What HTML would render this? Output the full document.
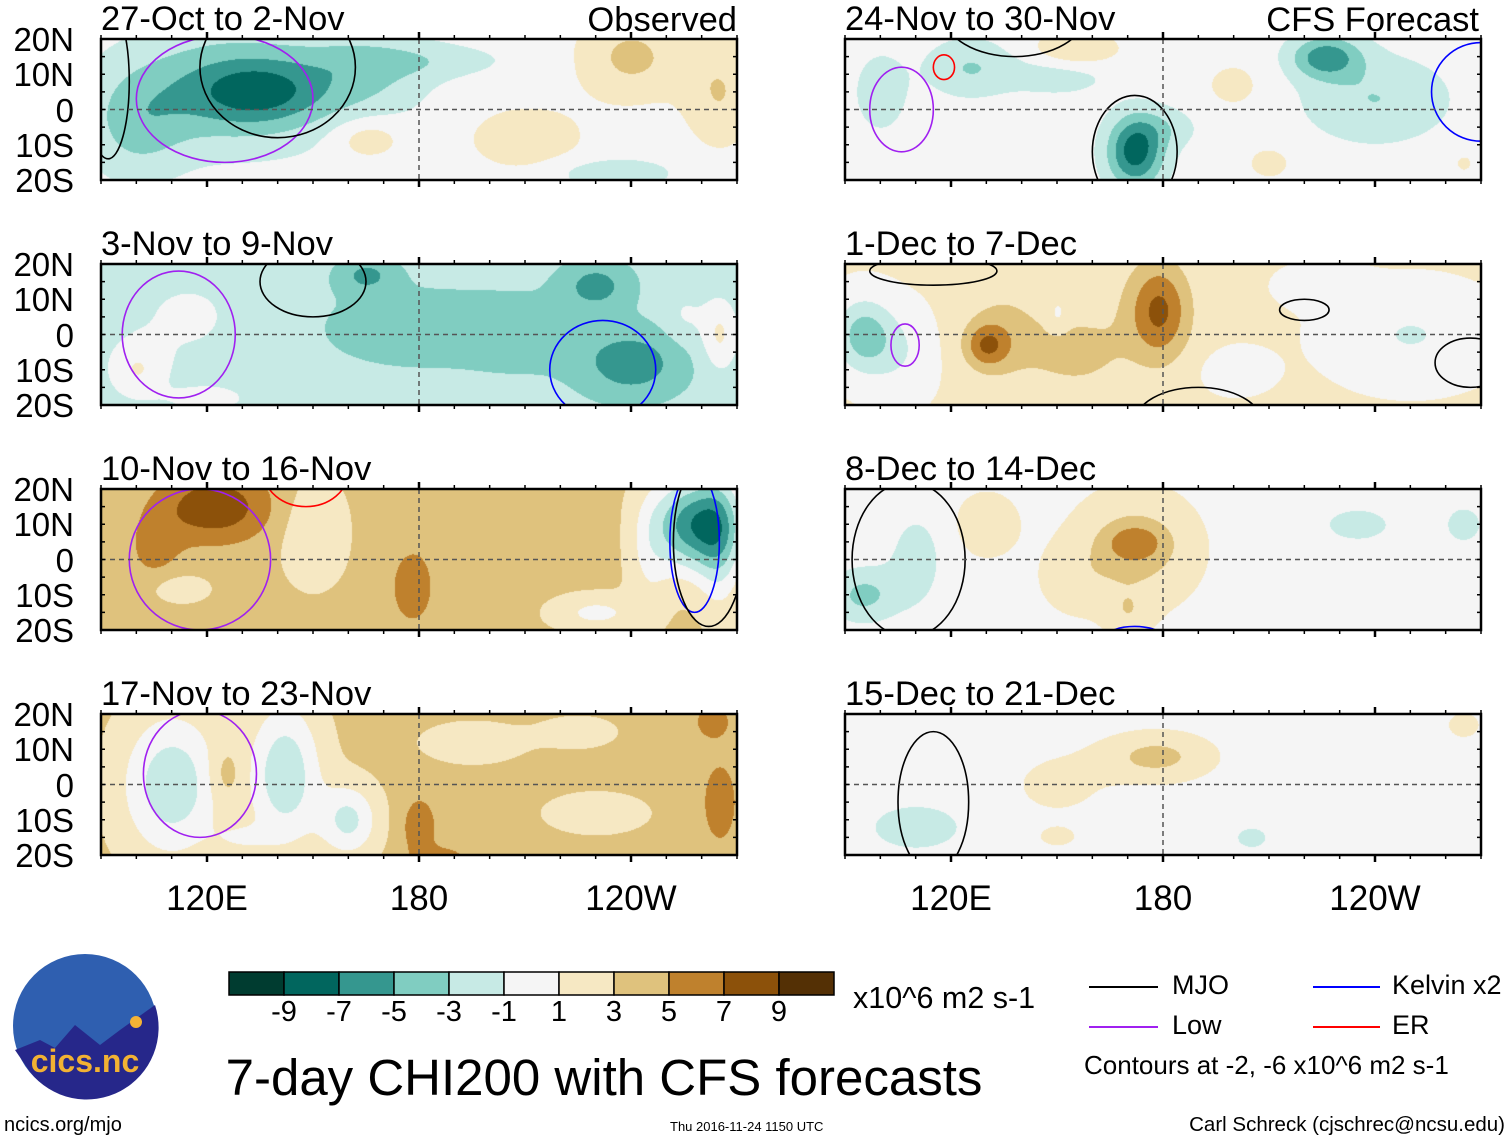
<!DOCTYPE html>
<html><head><meta charset="utf-8"><style>
body{margin:0;background:#fff;width:1510px;height:1142px;overflow:hidden;position:relative;font-family:"Liberation Sans",sans-serif}
.t{position:absolute;white-space:nowrap;color:#000;line-height:1}
canvas,svg{position:absolute;left:0;top:0}
</style></head><body>
<canvas id="cv" width="1510" height="1142"></canvas>
<svg id="sv" width="1510" height="1142"></svg>
<div id="txt"></div>
<script>
// ---- data ----
const panelTitles = ["27-Oct to 2-Nov","3-Nov to 9-Nov","10-Nov to 16-Nov","17-Nov to 23-Nov","24-Nov to 30-Nov","1-Dec to 7-Dec","8-Dec to 14-Dec","15-Dec to 21-Dec"];
const panelBase = [0,-2.2,3.5,3.5,0,1.2,0.5,0];
// blobs: [lon, lat, amplitude, lonWidth, latWidth]
const blobsP0 = [[128,6,-5.5,30,16],[135,5,-3.5,16,8],[100,-5,-3,14,15],[165,10,-2.5,18,12],[180,14,-2,25,5],[240,15,3.5,15,12],[265,5,3,10,15],[165,-8,2.5,10,6],[210,-8,2,18,10],[235,-18,-3,15,4]];
const blobsP1 = [[165,17,-3,8,5],[180,2,-1.5,35,14],[240,-8,-4,15,10],[230,14,-3.5,10,7],[210,0,-1.5,15,10],[115,5,1.5,20,15],[100,-10,3,8,8],[265,0,3.5,5,10],[120,-18,2,12,4],[255,5,1.5,6,8]];
const blobsP2 = [[122,15,5,16,10],[105,3,2,8,10],[112,-8,-2,8,4],[150,8,-2.5,9,14],[178,-8,2.5,7,12],[258,10,-10,12,13],[265,5,-4,6,20],[230,-15,-3,12,5],[245,0,-2,6,18],[205,8,0.6,30,10]];
const blobsP3 = [[110,0,-6,14,20],[142,3,-6,10,20],[160,-10,-5,8,10],[130,-15,-2,8,4],[180,-12,3,5,9],[265,-5,3,5,12],[263,18,3,5,5],[230,-8,-1.5,15,6],[195,12,-1.5,15,6],[225,15,-1.2,12,5],[187,-20,2,8,3],[125,3,2,5,8]];
const blobsP4 = [[172,-12,-8,8,10],[180,-5,-2,10,6],[226,15,-6,10,6],[240,3,-3,20,12],[125,12,-3,12,8],[100,5,-2,8,12],[150,10,-2,15,6],[155,17,3.2,12,5],[200,7,1.5,10,8],[210,-15,1.5,8,6],[265,-15,1.2,5,5]];
const blobsP5 = [[179,7,5,8,13],[175,5,1.5,14,18],[130,-3,4.5,6,6],[135,0,2.5,12,14],[155,-5,2.5,12,10],[95,0,-5,8,10],[105,-5,-2,10,12],[150,5,-1.5,3,5],[250,0,-2.3,20,12],[225,14,-2,10,5],[200,-10,-1.2,10,6]];
const blobsP6 = [[172,5,3,8,5],[172,3,3.5,15,14],[170,-15,1.8,6,6],[95,-10,-4,10,8],[110,0,-2.5,8,14],[130,10,2,8,8],[235,10,-2.3,12,6],[265,10,-2,8,8],[155,-5,1.2,10,10]];
const blobsP7 = [[178,8,3.6,16,7],[150,0,1.5,15,10],[110,-12,-2.5,12,6],[205,-15,-1.5,6,4],[265,17,2,5,4],[150,-15,1.2,8,4]];
const allBlobs = [blobsP0,blobsP1,blobsP2,blobsP3,blobsP4,blobsP5,blobsP6,blobsP7];
// contours: [panel, lon, lat, lonRadius, latRadius, color]
const contourPanels = [0,0,0,1,1,1,2,2,2,2,3,4,4,4,4,4,5,5,5,5,5,6,6,6,7];
const contourLon = [125,92,140,112,150,232,118,148,258,262,118,106,138,118,172,270,107,220,115,190,267,108,208,172,115];
const contourLat = [3,8,12,0,15,-10,0,25,5,5,3,0,27,12,-12,5,-3,7,18,-25,-8,0,25,-22,-5];
const contourRx = [25,6,22,16,15,15,20,12,7,10,16,9,20,3,12,14,4,7,18,18,10,16,8,8,10];
const contourRy = [18,22,20,18,10,14,20,10,20,24,18,12,12,3.5,16,14,6,3,4,10,7,22,5,3,20];
const contourColors = ["#a020f0","#000","#000","#a020f0","#000","#0000ff","#a020f0","#ff0000","#0000ff","#000","#a020f0","#a020f0","#000","#ff0000","#000","#0000ff","#a020f0","#000","#000","#000","#000","#000","#0000ff","#0000ff","#000"];
const levels = [-9,-7,-5,-3,-1,1,3,5,7,9];
const palette = ["#003c30","#01665e","#35978f","#80cdc1","#c7eae5","#f5f5f5","#f6e8c3","#dfc27d","#bf812d","#8c510a","#543005"];
const latTicks = ["20N","10N","0","10S","20S"];
const lonTicks = ["120E","180","120W"];

// ---- geometry ----
const colX=[101,845], rowY=[39,264,489,714], PW=636, PH=141;
const sx = PW/180, sy = PH/40;
function px(p,lon){return colX[p<4?0:1]+(lon-90)*sx;}
function py(p,lat){return rowY[p%4]+(20-lat)*sy;}
function field(p,lon,lat){let v=panelBase[p];for(const b of allBlobs[p]){const dx=(lon-b[0])/b[3],dy=(lat-b[1])/b[4];v+=b[2]*Math.exp(-(dx*dx+dy*dy));}return v;}
function cls(v){let i=0;while(i<levels.length&&v>=levels[i])i++;return i;}
const rgb=palette.map(h=>[parseInt(h.substr(1,2),16),parseInt(h.substr(3,2),16),parseInt(h.substr(5,2),16)]);
const ctx=document.getElementById('cv').getContext('2d');
for(let p=0;p<8;p++){
  const x0=colX[p<4?0:1],y0=rowY[p%4];
  const img=ctx.createImageData(PW,PH);
  for(let j=0;j<PH;j++)for(let i=0;i<PW;i++){
    const c=rgb[cls(field(p,90+i/sx,20-j/sy))];const k=(j*PW+i)*4;
    img.data[k]=c[0];img.data[k+1]=c[1];img.data[k+2]=c[2];img.data[k+3]=255;}
  ctx.putImageData(img,x0,y0);
}
// ---- overlay ----
const NS="http://www.w3.org/2000/svg",sv=document.getElementById('sv');
function mk(tag,at,name){const e=document.createElementNS(NS,tag);for(const k in at)e.setAttribute(k,at[k]);


sv.appendChild(e);return e;}
for(let p=0;p<8;p++){
  const cp=mk('clipPath',{id:'c'+p},'clip');
  const r=document.createElementNS(NS,'rect');r.setAttribute('x',colX[p<4?0:1]);r.setAttribute('y',rowY[p%4]);r.setAttribute('width',PW);r.setAttribute('height',PH);cp.appendChild(r);
}
for(let k=0;k<contourPanels.length;k++){
  const p=contourPanels[k];
  mk('ellipse',{cx:px(p,contourLon[k]),cy:py(p,contourLat[k]),rx:contourRx[k]*sx,ry:contourRy[k]*sy,fill:'none',stroke:contourColors[k],'stroke-width':1.6,'clip-path':'url(#c'+p+')'},'contour-line');
}
for(let p=0;p<8;p++){
  const x0=colX[p<4?0:1],y0=rowY[p%4];
  mk('line',{x1:x0,y1:py(p,0),x2:x0+PW,y2:py(p,0),stroke:'#555','stroke-width':1.5,'stroke-dasharray':'5,4'},'equator-line');
  mk('line',{x1:px(p,180),y1:y0,x2:px(p,180),y2:y0+PH,stroke:'#555','stroke-width':1.5,'stroke-dasharray':'5,4'},'dateline');
  mk('rect',{x:x0,y:y0,width:PW,height:PH,fill:'none',stroke:'#000','stroke-width':2.5},'panel-frame');
  for(let lon=90;lon<=270;lon+=10){const major=(lon-120)%60===0;const x=px(p,lon),L=major?7:4;
    mk('line',{x1:x,y1:y0-L,x2:x,y2:y0,stroke:'#000','stroke-width':major?2.5:1.5},'tick');
    mk('line',{x1:x,y1:y0+PH,x2:x,y2:y0+PH+L,stroke:'#000','stroke-width':major?2.5:1.5},'tick');}
  for(let lat=-20;lat<=20;lat+=5){const y=py(p,lat);
    mk('line',{x1:x0,y1:y,x2:x0+4,y2:y,stroke:'#000','stroke-width':1.5},'tick');
    mk('line',{x1:x0+PW-4,y1:y,x2:x0+PW,y2:y,stroke:'#000','stroke-width':1.5},'tick');}
}
for(let i=0;i<palette.length;i++){mk('rect',{x:229+i*55,y:972,width:55,height:23,fill:palette[i],stroke:'#000','stroke-width':1.5},'colorbar-box');}
mk('line',{x1:1089,y1:987,x2:1158,y2:987,stroke:'#000','stroke-width':2},'legend-mjo-line');
mk('line',{x1:1089,y1:1027,x2:1158,y2:1027,stroke:'#a020f0','stroke-width':2},'legend-low-line');
mk('line',{x1:1313,y1:987,x2:1380,y2:987,stroke:'#0000ff','stroke-width':2},'legend-kelvin-line');
mk('line',{x1:1313,y1:1027,x2:1380,y2:1027,stroke:'#ff0000','stroke-width':2},'legend-er-line');
mk('circle',{cx:85,cy:1026,r:72,fill:'#2f5fb0'},'logo-circle');
mk('path',{d:'M15 1050 L40 1040 L55 1048 L75 1025 L100 1045 L120 1030 L155 1005 A72 72 0 0 1 30 1072 Z',fill:'#26278a'},'logo-mountains');
mk('circle',{cx:136,cy:1022,r:6,fill:'#f5b335'},'logo-sun');

// ---- text ----
const T=document.getElementById('txt');
function tx(s,x,y,fs,name,align,extra){const d=document.createElement('div');d.className='t';d.textContent=s;


d.style.fontSize=fs+'px';d.style.top=y+'px';
if(align==='r'){d.style.right=(1510-x)+'px';}else if(align==='c'){d.style.left=x+'px';d.style.transform='translateX(-50%)';}else d.style.left=x+'px';
if(extra)d.style.cssText+=extra;T.appendChild(d);}
for(let p=0;p<8;p++){tx(panelTitles[p],colX[p<4?0:1],rowY[p%4]-37,34.5,'panel-title');}
tx("Observed",737,3,34.5,'observed-label','r');
tx("CFS Forecast",1479,3,34.5,'cfs-forecast-label','r');
for(let r=0;r<4;r++)for(let k=0;k<5;k++){tx(latTicks[k],74,rowY[r]+k*PH/4-16,33,'lat-label','r');}
for(let c=0;c<2;c++)for(let k=0;k<3;k++){tx(lonTicks[k],colX[c]+(30+60*k)*sx,881,35,'lon-label','c');}
for(let i=0;i<levels.length;i++){tx(String(levels[i]),229+(i+1)*55,998,29,'colorbar-label','c');}
tx("x10^6 m2 s-1",853,983,30.5,'units-label');
tx("MJO",1172,972,27,'legend-mjo');tx("Low",1172,1012,27,'legend-low');
tx("Kelvin x2",1392,972,27,'legend-kelvin');tx("ER",1392,1012,27,'legend-er');
tx("Contours at -2, -6 x10^6 m2 s-1",1084,1052,26,'contours-note');
tx("7-day CHI200 with CFS forecasts",604,1052,51,'main-title','c');
tx("ncics.org/mjo",4,1115,20,'footer-url');
tx("Thu 2016-11-24 1150 UTC",670,1120,13,'timestamp');
tx("Carl Schreck (cjschrec@ncsu.edu)",1505,1115,20.5,'author-credit','r');
tx("cics.nc",85,1045,32,'logo-text','c','color:#f2b233;font-weight:bold');
</script>
</body></html>
